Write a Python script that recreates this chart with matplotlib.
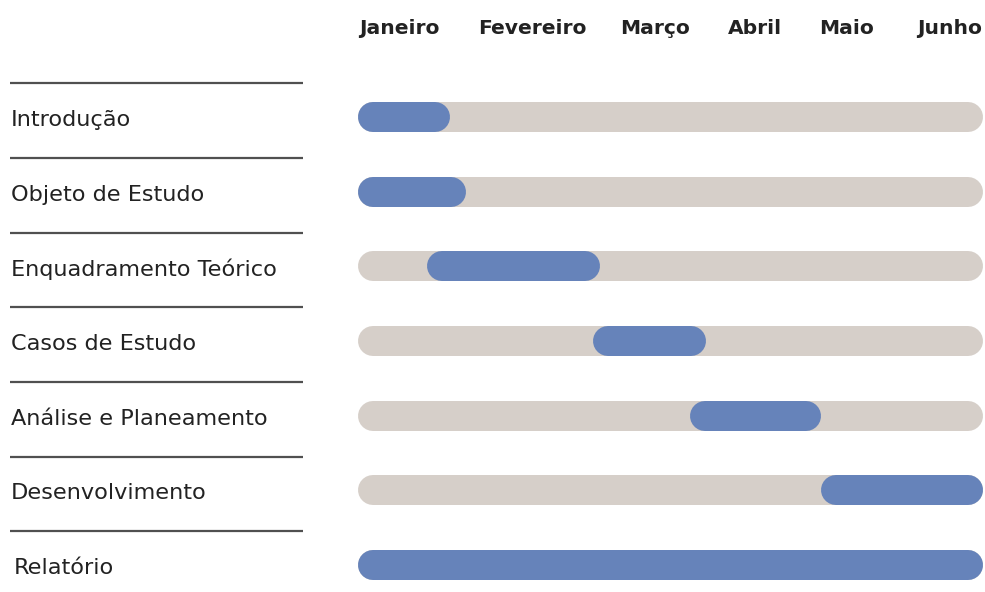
import matplotlib
matplotlib.use("Agg")
import matplotlib.pyplot as plt

# ---- data ----
tasks = ["Introdução", "Objeto de Estudo", "Enquadramento Teórico", "Casos de Estudo",
         "Análise e Planeamento", "Desenvolvimento", "Relatório"]
starts = [0.00, 0.00, 0.66, 2.26, 3.19, 4.44, 0.00]
ends = [0.88, 1.04, 2.32, 3.34, 4.44, 6.00, 6.00]
months = ["Janeiro", "Fevereiro", "Março", "Abril", "Maio", "Junho"]
month_pos = [0.40, 1.67, 2.85, 3.81, 4.69, 5.68]
total_start, total_end = 0.0, 6.0

W, H, DPI = 985, 592, 100
fig = plt.figure(figsize=(W / DPI, H / DPI), dpi=DPI)
fig.patch.set_facecolor("white")

# axes spanning bar area horizontally and the full figure height
x0_px, x1_px = 358, 983
ax = fig.add_axes([x0_px / W, 0, (x1_px - x0_px) / W, 1])
ax.set_xlim(total_start, total_end)
row0_px, row_step_px = 117, 74.67
ax.set_ylim((H - row0_px) / row_step_px, -row0_px / row_step_px)
ax.axis("off")

px_per_unit = (x1_px - x0_px) / (total_end - total_start)
bar_px = 30
lw = bar_px * 72 / DPI
r = (bar_px / 2) / px_per_unit  # cap radius in data units

grey = "#d6cfc9"
blue = "#6683ba"
font = "DejaVu Sans"

for i, (t, s, e) in enumerate(zip(tasks, starts, ends)):
    ax.plot([total_start + r, total_end - r], [i, i], color=grey, lw=lw,
            solid_capstyle="round", zorder=1)
    ax.plot([s + r, e - r], [i, i], color=blue, lw=lw,
            solid_capstyle="round", zorder=2)
    # separator and label on the left
    lx0 = (10 - x0_px) / px_per_unit
    lx1 = (303 - x0_px) / px_per_unit
    ax.plot([lx0, lx1], [i - 0.45, i - 0.45], color="#505050", lw=1.6,
            clip_on=False, solid_capstyle="butt")
    lx = 14 if i == len(tasks) - 1 else 11
    ax.text((lx - x0_px) / px_per_unit, i + 0.04, t, ha="left", va="center",
            fontsize=16.1, color="#222222", family=font, clip_on=False)

for m, p in zip(months, month_pos):
    ax.text(p, -1.19, m, ha="center", va="center", fontsize=14.6,
            fontweight="bold", color="#222222", family=font, clip_on=False)

fig.savefig("out.png", dpi=DPI, facecolor="white")
